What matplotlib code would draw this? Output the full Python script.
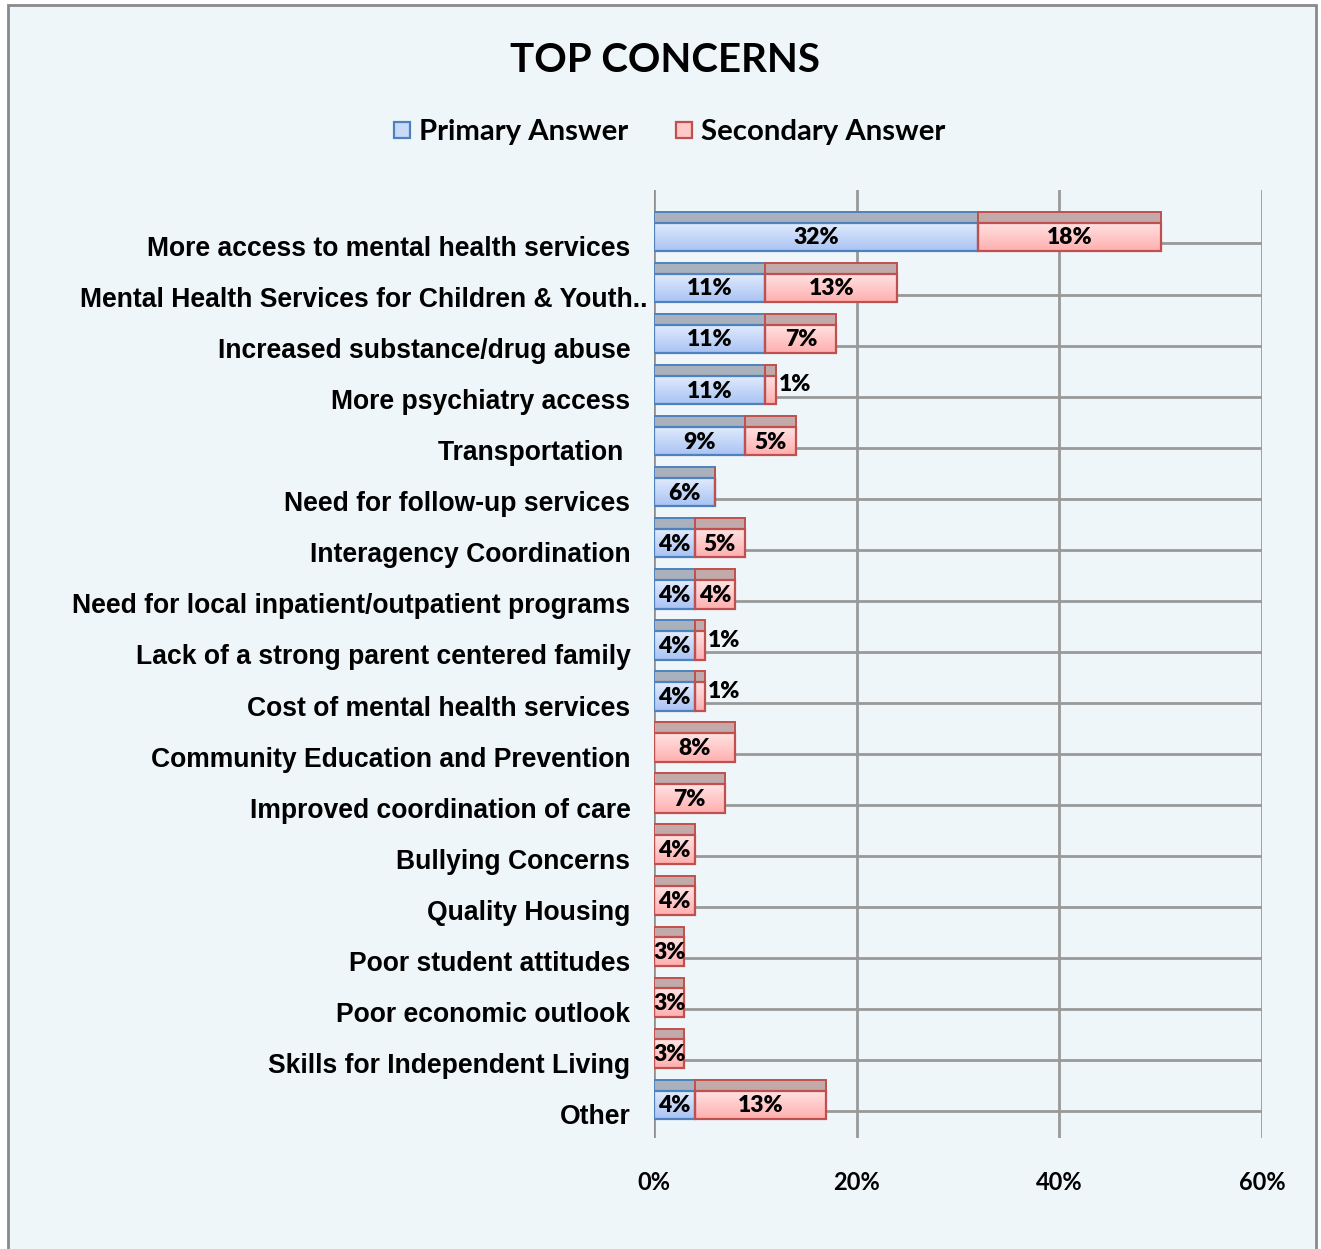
import numpy as np
import matplotlib
matplotlib.use("Agg")
import matplotlib.pyplot as plt
from matplotlib.patches import Rectangle
from matplotlib.colors import LinearSegmentedColormap

# ---- data -------------------------------------------------------------
categories = [
    "More access to mental health services",
    "Mental Health Services for Children & Youth..",
    "Increased substance/drug abuse",
    "More psychiatry access",
    "Transportation ",
    "Need for follow-up services",
    "Interagency Coordination",
    "Need for local inpatient/outpatient programs",
    "Lack of a strong parent centered family",
    "Cost of mental health services",
    "Community Education and Prevention",
    "Improved coordination of care",
    "Bullying Concerns",
    "Quality Housing",
    "Poor student attitudes",
    "Poor economic outlook",
    "Skills for Independent Living",
    "Other",
]
primary = [32, 11, 11, 11, 9, 6, 4, 4, 4, 4, 0, 0, 0, 0, 0, 0, 0, 4]
secondary = [18, 13, 7, 1, 5, 0, 5, 4, 1, 1, 8, 7, 4, 4, 3, 3, 3, 13]
series_names = ["Primary Answer", "Secondary Answer"]
x_ticks = [0, 20, 40, 60]

# ---- style ------------------------------------------------------------
W, H = 1321, 1249
BG = "#EFF6FA"
BLUE_EDGE = "#4F81BD"
RED_EDGE = "#C0504D"
BLUE_TOP = "#A9B1BD"
RED_TOP = "#C2A9AA"
GRID = "#999999"
CAL = ["Lato", "DejaVu Sans"]
ARIAL = ["Liberation Sans", "DejaVu Sans"]

blue_cmap = LinearSegmentedColormap.from_list("b", ["#E2ECFD", "#A9C3F3"])
red_cmap = LinearSegmentedColormap.from_list("r", ["#FFE3E3", "#FFAFAF"])

fig = plt.figure(figsize=(W / 100, H / 100), dpi=100)
fig.patch.set_facecolor("white")

# outer frame (bottom edge runs off the canvas)
fig.patches.append(Rectangle((8 / W, -0.01), (1316 - 8) / W, (H - 5) / H + 0.01,
                             transform=fig.transFigure, facecolor=BG,
                             edgecolor="#8A8A8A", linewidth=2.0, zorder=-5))

ax = fig.add_axes([654 / W, (H - 1138) / H, (1262 - 654) / W, (1138 - 190) / H])
ax.set_zorder(2)
ax.set_facecolor("none")
n = len(categories)
y = np.arange(n)
for s in ax.spines.values():
    s.set_visible(False)

# back-wall grid
for xv in x_ticks:
    ax.axvline(xv, color=GRID if xv else "#8C8C8C", lw=2.0 if xv else 2.6, zorder=1)
for yi in y:
    ax.plot([0, 60], [yi - 0.05, yi - 0.05], color=GRID, lw=2.0, zorder=1,
            solid_capstyle="butt")

FACE_H = 0.56
FACE_C = -0.18      # front-face centre relative to category position
TOP_H = 0.21

def draw_series(vals, lefts, cmap, edge, topcol):
    bars = ax.barh(y + FACE_C, vals, left=lefts, height=FACE_H, facecolor="none",
                   edgecolor=edge, linewidth=1.6, zorder=4)
    ax.barh(y + FACE_C - FACE_H / 2 - TOP_H / 2, vals, left=lefts, height=TOP_H,
            facecolor=topcol, edgecolor=edge, linewidth=1.4, zorder=3)
    grad = np.linspace(0, 1, 64).reshape(-1, 1)
    for b in bars:
        if b.get_width() <= 0:
            continue
        x0, y0 = b.get_x(), b.get_y()
        im = ax.imshow(grad, cmap=cmap, aspect="auto", zorder=3.5,
                       extent=[x0, x0 + b.get_width(), y0 + b.get_height(), y0],
                       interpolation="bilinear")
        im.set_clip_path(b)
    return bars

prim = np.array(primary, dtype=float)
sec = np.array(secondary, dtype=float)
draw_series(prim, np.zeros(n), blue_cmap, BLUE_EDGE, BLUE_TOP)
draw_series(sec, prim, red_cmap, RED_EDGE, RED_TOP)
ax.set_xlim(0, 60)
ax.set_ylim(17 + (1138 - 1114) / 51.06, -(246 - 190) / 51.06)

# value labels
LBL = dict(fontfamily=CAL, fontweight="heavy", fontsize=16.5, color="black", zorder=6)
for i in range(n):
    if prim[i] > 0:
        ax.text(prim[i] / 2, i + FACE_C + 0.02, f"{primary[i]}%", ha="center",
                va="center", **LBL)
    if sec[i] > 0:
        if sec[i] <= 1:
            ax.text(prim[i] + sec[i] + 0.35, i + FACE_C - 0.1, f"{secondary[i]}%",
                    ha="left", va="center", **LBL)
        else:
            ax.text(prim[i] + sec[i] / 2, i + FACE_C + 0.02, f"{secondary[i]}%",
                    ha="center", va="center", **LBL)

# category labels; the long second label spills a little past the others
tick_text = list(categories)
tick_text[1] = ""
ax.set_yticks(y)
ax.set_yticklabels(tick_text, fontfamily=ARIAL, fontweight="bold", fontsize=19.1)
ax.tick_params(axis="y", length=0, pad=17)
ax.annotate(categories[1], xy=(0, y[1]), xycoords=("axes fraction", "data"),
            xytext=(-7, 0), textcoords="offset pixels", ha="right",
            va="center_baseline", fontfamily=ARIAL, fontweight="bold", fontsize=19.1)

ax.set_xticks(x_ticks)
ax.set_xticklabels([f"{v}%" for v in x_ticks], fontfamily=CAL, fontweight="bold",
                   fontsize=17)
ax.tick_params(axis="x", length=0, pad=24)

# title
fig.text(665 / W, 1 - 61 / H, "TOP CONCERNS", ha="center", va="center",
         fontfamily=CAL, fontweight="bold", fontsize=29)

# legend
for (x0, name, fc, ec) in [(394, series_names[0], "#C9DAF8", BLUE_EDGE),
                           (676, series_names[1], "#FFC9C9", RED_EDGE)]:
    fig.patches.append(Rectangle((x0 / W, 1 - 138 / H), 16 / W, 16 / H,
                                 transform=fig.transFigure, facecolor=fc,
                                 edgecolor=ec, linewidth=1.6, zorder=3))
    fig.text((x0 + 25) / W, 1 - 132 / H, name, ha="left", va="center",
             fontfamily=CAL, fontweight="bold", fontsize=21.2)

fig.savefig("out.png", dpi=100, facecolor=fig.get_facecolor())
